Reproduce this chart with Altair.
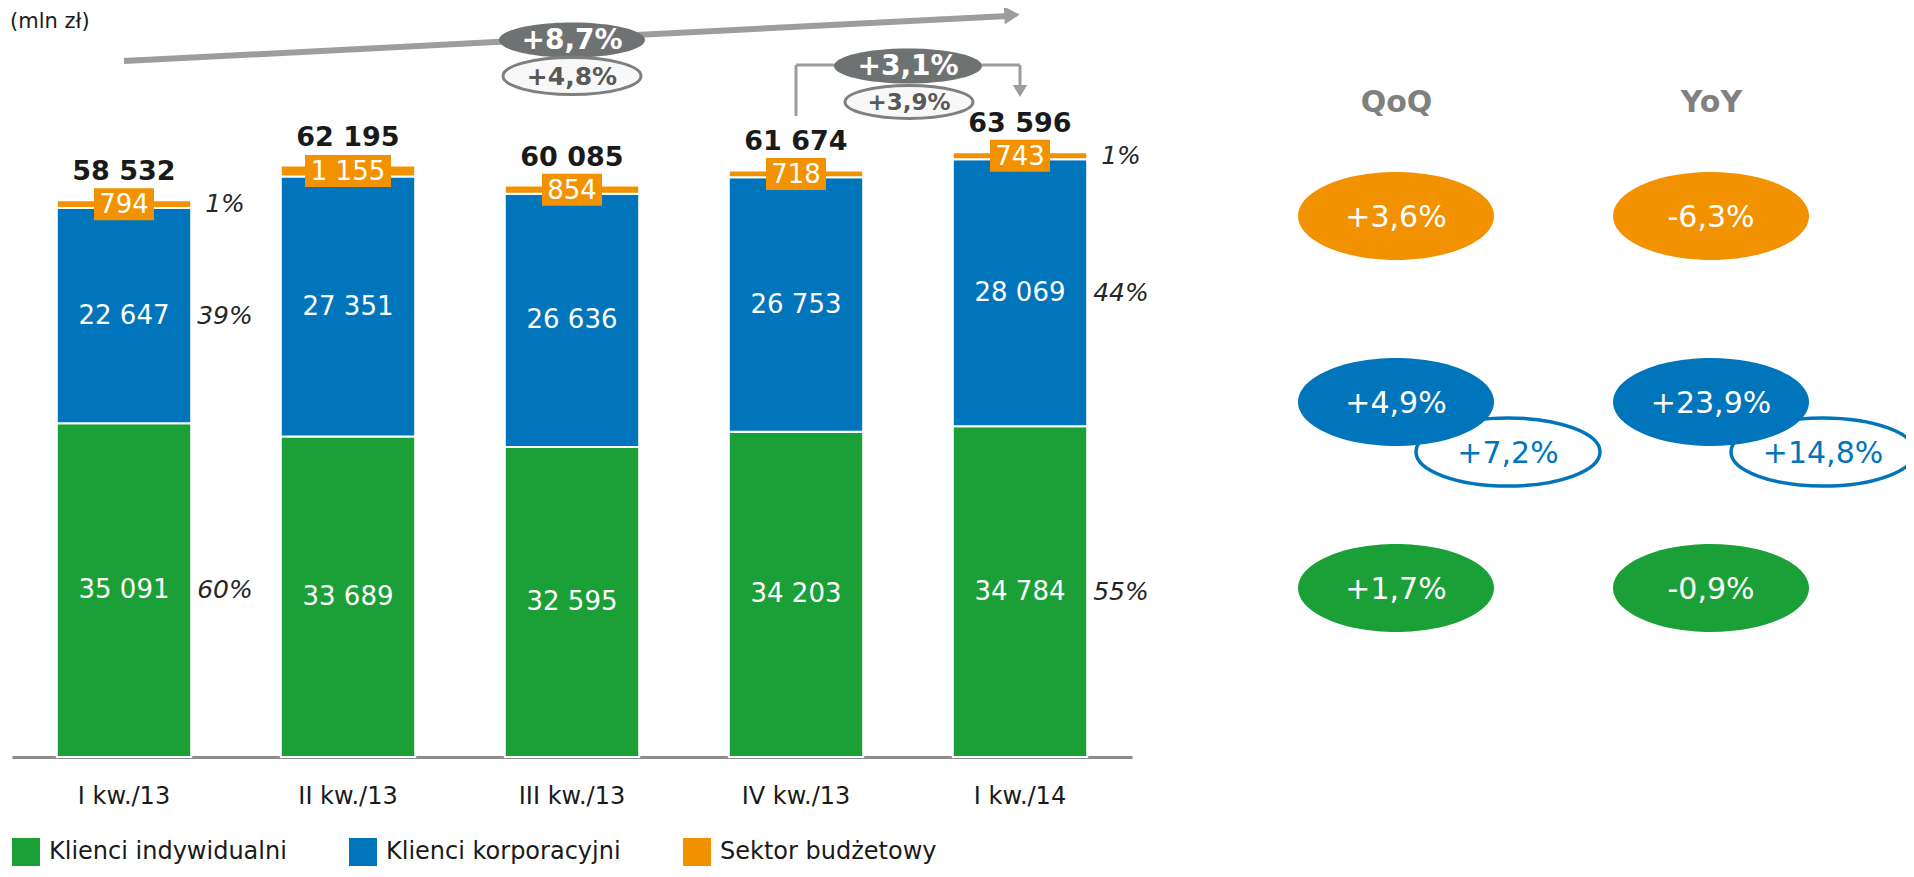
import altair as alt
import pandas as pd

# ---------------- data ----------------
quarters = ["I kw./13", "II kw./13", "III kw./13", "IV kw./13", "I kw./14"]
indywidualni = [35091, 33689, 32595, 34203, 34784]
korporacyjni = [22647, 27351, 26636, 26753, 28069]
budzetowy = [794, 1155, 854, 718, 743]
totals = [58532, 62195, 60085, 61674, 63596]
segments = ["Klienci indywidualni", "Klienci korporacyjni", "Sektor budżetowy"]
seg_colors = ["#1BA037", "#0075BC", "#F39200"]
share_first = ["60%", "39%", "1%"]
share_last = ["55%", "44%", "1%"]

total_change_yoy = ["+8,7%", "+4,8%"]
total_change_qoq = ["+3,1%", "+3,9%"]

panel_cols = ["QoQ", "YoY"]
panel_rows = ["Sektor budżetowy", "Klienci korporacyjni", "Klienci indywidualni"]
qoq_vals = ["+3,6%", "+4,9%", "+1,7%"]
yoy_vals = ["-6,3%", "+23,9%", "-0,9%"]
corp_extra = ["+7,2%", "+14,8%"]

unit_label = "(mln zł)"


def fmt(v):
    return f"{v:,}".replace(",", " ")


rows = []
for i, q in enumerate(quarters):
    base = 0
    for k, (seg, vals) in enumerate(zip(segments, [indywidualni, korporacyjni, budzetowy])):
        v = vals[i]
        if i == 0:
            share = share_first[k]
        elif i == len(quarters) - 1:
            share = share_last[k]
        else:
            share = ""
        rows.append(dict(quarter=q, segment=seg, ord=k, value=v, y0=base, y1=base + v,
                         mid=base + v / 2, label=fmt(v), share=share))
        base += v
df = pd.DataFrame(rows)
tot = pd.DataFrame(dict(quarter=quarters, total=totals, label=[fmt(t) for t in totals]))

panel = pd.DataFrame(
    [dict(col="QoQ", segment=s, label=v) for s, v in zip(panel_rows, qoq_vals)]
    + [dict(col="YoY", segment=s, label=v) for s, v in zip(panel_rows, yoy_vals)]
)
extra = pd.DataFrame(dict(col=panel_cols, segment=["Klienci korporacyjni"] * 2, label=corp_extra))
one = pd.DataFrame({"k": [0]})

# ---------------- helpers ----------------
FONT = "DejaVu Sans"


def ell(w, h):
    r = h / w
    return f"M-1,0A1,{r:.4f} 0 1,1 1,0A1,{r:.4f} 0 1,1 -1,0Z"


def box(w, h):
    r = h / w
    return f"M-1,-{r:.4f}H1V{r:.4f}H-1Z"


xs = alt.Scale(domain=quarters, range=[4, 1124], paddingInner=0.4, paddingOuter=0.2)
ys = alt.Scale(domain=[0, 78760], nice=False, zero=True)

xaxis = alt.Axis(orient="bottom", title=None, domainColor="#8c8c8c", domainWidth=3,
                 ticks=False, tickSize=0, labelFontSize=24, labelColor="#1a1a1a",
                 labelPadding=27, labelFont=FONT, labelAngle=0, grid=False)

legend = alt.Legend(orient="none", legendX=4, legendY=830, direction="horizontal",
                    title=None, symbolType="square", symbolSize=784, labelFontSize=24,
                    labelFont=FONT, labelColor="#1a1a1a", labelOffset=9, columnPadding=62,
                    symbolStrokeWidth=0, padding=0, labelLimit=500, symbolOpacity=1)

color = alt.Color("segment:N", scale=alt.Scale(domain=segments, range=seg_colors), legend=legend)

X = alt.X("quarter:N", scale=xs, axis=xaxis, sort=quarters)

# ---------------- bar layer ----------------
bars = alt.Chart(df).mark_bar(stroke="white", strokeWidth=2).encode(
    x=X, y=alt.Y("y0:Q", scale=ys, axis=None), y2="y1:Q", color=color
)
seg_text = alt.Chart(df).transform_filter("datum.ord < 2").mark_text(
    color="white", fontSize=26, font=FONT
).encode(x=alt.X("quarter:N"), y=alt.Y("mid:Q"), text="label:N")

box_small = alt.Chart(df).transform_filter("datum.ord == 2 && length(datum.label) <= 3").mark_point(
    shape=box(60, 32), size=60 * 60, filled=True, color="#F39200", opacity=1
).encode(x=alt.X("quarter:N"), y=alt.Y("mid:Q"))
box_big = alt.Chart(df).transform_filter("datum.ord == 2 && length(datum.label) > 3").mark_point(
    shape=box(86, 32), size=86 * 86, filled=True, color="#F39200", opacity=1
).encode(x=alt.X("quarter:N"), y=alt.Y("mid:Q"))
box_text = alt.Chart(df).transform_filter("datum.ord == 2").mark_text(
    color="white", fontSize=26, font=FONT, dy=1
).encode(x=alt.X("quarter:N"), y=alt.Y("mid:Q"), text="label:N")

share_text = alt.Chart(df).transform_filter("datum.share != ''").mark_text(
    fontStyle="italic", fontSize=25, color="#262626", dx=101, font=FONT
).encode(x=alt.X("quarter:N"), y=alt.Y("mid:Q"), text="share:N")

total_text = alt.Chart(tot).mark_text(
    fontWeight="bold", fontSize=27, color="#1a1a1a", dy=-28, font=FONT
).encode(x=alt.X("quarter:N"), y=alt.Y("total:Q"), text="label:N")

unit_text = alt.Chart(one).mark_text(
    align="left", baseline="top", fontSize=21, color="#1a1a1a", font=FONT, text=unit_label
).encode(x=alt.value(2), y=alt.value(3))

# big arrow I kw./13 -> I kw./14
GRAY_LINE = "#9d9d9d"
arrow_line = alt.Chart(one).mark_rule(color=GRAY_LINE, strokeWidth=6, x2Offset=-12).encode(
    x=alt.datum(quarters[0]), x2=alt.datum(quarters[-1]), y=alt.value(53), y2=alt.value(8)
)
arrow_head = alt.Chart(one).mark_point(
    shape="triangle-right", size=320, filled=True, color=GRAY_LINE, opacity=1, angle=357, xOffset=-8
).encode(x=alt.datum(quarters[-1]), y=alt.value(7))

# bracket IV kw./13 -> I kw./14
br_left = alt.Chart(one).mark_rule(color=GRAY_LINE, strokeWidth=3).encode(
    x=alt.datum(quarters[3]), y=alt.value(108), y2=alt.value(57)
)
br_top = alt.Chart(one).mark_rule(color=GRAY_LINE, strokeWidth=3).encode(
    x=alt.datum(quarters[3]), x2=alt.datum(quarters[4]), y=alt.value(57)
)
br_right = alt.Chart(one).mark_rule(color=GRAY_LINE, strokeWidth=3).encode(
    x=alt.datum(quarters[4]), y=alt.value(57), y2=alt.value(80)
)
br_head = alt.Chart(one).mark_point(
    shape="triangle-down", size=200, filled=True, color=GRAY_LINE, opacity=1
).encode(x=alt.datum(quarters[4]), y=alt.value(83))


def filled_badge(q, xoff, y, w, h, text, fs):
    e = alt.Chart(one).mark_point(shape=ell(w, h), size=w * w, filled=True, color="#6f7272",
                                  opacity=1, xOffset=xoff).encode(x=alt.datum(q), y=alt.value(y))
    t = alt.Chart(one).mark_text(fontWeight="bold", fontSize=fs, color="white", font=FONT,
                                 text=text, xOffset=xoff).encode(x=alt.datum(q), y=alt.value(y + 1))
    return [e, t]


def outline_badge(q, xoff, y, w, h, text, fs):
    e = alt.Chart(one).mark_point(shape=ell(w, h), size=w * w, filled=True, fill="#f8f8f8",
                                  stroke="#7f7f7f", strokeWidth=3, opacity=1,
                                  xOffset=xoff).encode(x=alt.datum(q), y=alt.value(y))
    t = alt.Chart(one).mark_text(fontWeight="bold", fontSize=fs, color="#595959", font=FONT,
                                 text=text, xOffset=xoff).encode(x=alt.datum(q), y=alt.value(y + 1))
    return [e, t]


badges = (
    filled_badge(quarters[2], 0, 32, 146, 35, total_change_yoy[0], 28)
    + outline_badge(quarters[2], 0, 68, 138, 37, total_change_yoy[1], 25)
    + filled_badge(quarters[3], 112, 58, 148, 35, total_change_qoq[0], 28)
    + outline_badge(quarters[3], 113, 94, 128, 33, total_change_qoq[1], 23)
)

layerA = alt.layer(
    bars, seg_text, box_small, box_big, box_text, share_text, total_text, unit_text,
    arrow_line, arrow_head, br_left, br_top, br_right, br_head, *badges
)

# ---------------- right panel ----------------
pxs = alt.Scale(type="point", domain=panel_cols, range=[1388, 1703], padding=0)
pys = alt.Scale(type="point", domain=panel_rows, range=[208, 580], padding=0)
head_axis = alt.Axis(orient="top", title=None, domain=False, ticks=False, tickSize=0,
                     labelFontSize=30, labelFontWeight="bold", labelColor="#808080",
                     labelFont=FONT, labelPadding=0, labelBaseline="middle", offset=-94,
                     grid=False, labelAngle=0)

PX = alt.X("col:N", scale=pxs, axis=head_axis, sort=panel_cols)
PY = alt.Y("segment:N", scale=pys, axis=None, sort=panel_rows)

extra_ell = alt.Chart(extra).mark_point(
    shape=ell(184, 68), size=184 * 184, filled=True, fill="white", stroke="#0075BC",
    strokeWidth=3.5, opacity=1, xOffset=112, yOffset=50
).encode(x=PX, y=PY)
main_ell = alt.Chart(panel).mark_point(
    shape=ell(196, 88), size=196 * 196, filled=True, opacity=1
).encode(x=alt.X("col:N"), y=alt.Y("segment:N"), color=color)
main_txt = alt.Chart(panel).mark_text(color="white", fontSize=30, font=FONT, dy=2).encode(
    x=alt.X("col:N"), y=alt.Y("segment:N"), text="label:N"
)
extra_txt = alt.Chart(extra).mark_text(color="#0075BC", fontSize=30, font=FONT, dx=112, dy=52).encode(
    x=alt.X("col:N"), y=alt.Y("segment:N"), text="label:N"
)

layerB = alt.layer(extra_ell, main_ell, main_txt, extra_txt)

chart = (
    alt.layer(layerA, layerB)
    .resolve_scale(x="independent", y="independent")
    .properties(
        width=1898, height=749,
        padding={"left": 0, "top": 0, "right": 0, "bottom": 112},
        autosize=alt.AutoSizeParams(type="none"),
    )
    .configure(font=FONT, view=alt.ViewConfig(stroke=None, strokeWidth=0))
)

chart.save("out.html", embed_options={"renderer": "svg", "actions": False})
